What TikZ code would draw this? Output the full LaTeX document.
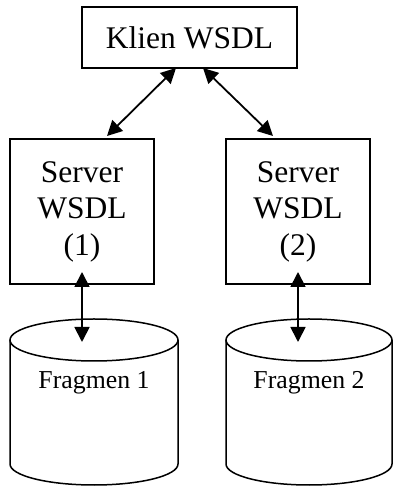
\documentclass[tikz,border=0pt]{standalone}
\usepackage{fontspec}
\setmainfont{Liberation Serif}
\usetikzlibrary{arrows.meta}
\tikzset{
  box/.style={draw, line width=1.5pt, inner sep=0pt, align=center,
    font=\fontsize{31.5}{36.5}\selectfont},
  tip/.style={Triangle[length=15pt,width=15pt]},
  link/.style={line width=1.8pt, {Triangle[length=15pt,width=15pt]}-{Triangle[length=15pt,width=15pt]}},
  dbline/.style={line width=1.5pt},
  dblabel/.style={font=\fontsize{25.8}{30}\selectfont, inner sep=0pt}
}
\begin{document}
\begin{tikzpicture}[x=1pt,y=1pt]
\useasboundingbox (0,0) rectangle (393,486);

% client and servers
\node[box, minimum width=215pt, minimum height=61pt] (klien) at (189.5,448.5) {Klien WSDL};
\node[box, minimum width=144pt, minimum height=145pt] (srv1) at (82,274.5) {Server\\WSDL\\(1)};
\node[box, minimum width=144pt, minimum height=145pt] (srv2) at (298,274.5) {Server\\WSDL\\(2)};

% database cylinders
\foreach \name/\cx/\rx in {db1/94/84, db2/309/83} {
  \draw[dbline, fill=white] (\cx,146) ellipse [x radius=\rx, y radius=21];
  \draw[dbline] (\cx-\rx,146) -- (\cx-\rx,22)
     arc[start angle=180, end angle=360, x radius=\rx, y radius=21]
     -- (\cx+\rx,146);
  \coordinate (\name) at (\cx,146);
}
\node[dblabel] (frag1) at (94,103) {Fragmen 1};
\node[dblabel] (frag2) at (309,103) {Fragmen 2};

% arrow end points
\coordinate (k1) at (176,418);
\coordinate (k2) at (203,418);
\coordinate (s1top) at (107,350);
\coordinate (s2top) at (273,350);
\coordinate (s1in) at (82,214);
\coordinate (s2in) at (298,214);
\coordinate (d1top) at (82,144);
\coordinate (d2top) at (298,144);

% connectors
\draw[link] (k1) -- (s1top);
\draw[link] (k2) -- (s2top);
\draw[link] (s1in) -- (d1top);
\draw[link] (s2in) -- (d2top);
\end{tikzpicture}
\end{document}
